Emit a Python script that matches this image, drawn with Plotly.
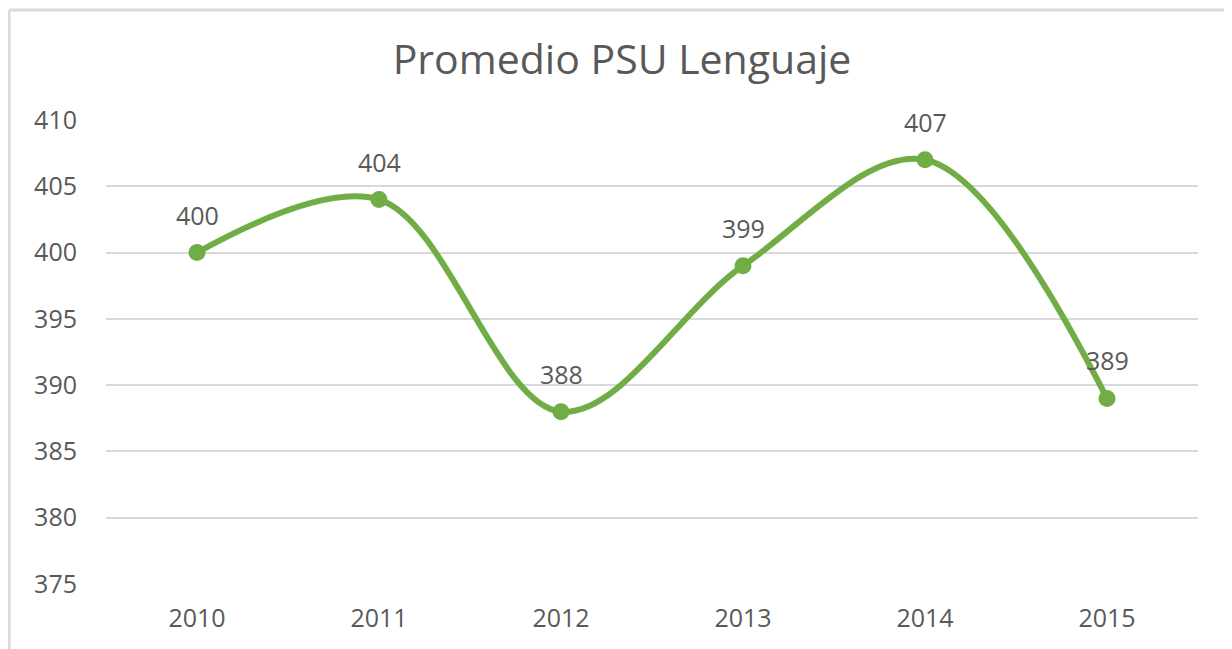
import plotly.graph_objects as go

years = ["2010", "2011", "2012", "2013", "2014", "2015"]
scores = [400, 404, 388, 399, 407, 389]
y_ticks = [375, 380, 385, 390, 395, 400, 405, 410]

GREEN = "#70AD47"
TXT = "#595959"
FONT = "Open Sans"

# page body has an 8px margin, so the figure sits at (8, 8) in the window
W, H = 1224, 641
L, R, T, B = 98, 34, 112, 65
PW, PH = W - L - R, H - T - B

fig = go.Figure()
fig.add_trace(go.Scatter(
    x=years, y=scores, mode="lines+markers",
    line=dict(color=GREEN, width=6, shape="spline", smoothing=1.0),
    marker=dict(color=GREEN, size=17),
    hoverinfo="skip", showlegend=False,
))

for i, yv in enumerate(scores):
    fig.add_annotation(x=i, y=yv, xref="x", yref="y", text=str(yv),
                       showarrow=False, yshift=38,
                       font=dict(family=FONT, size=25, color=TXT))

border_y = 1 + (T - 2) / PH
border_x = -(L - 1) / PW
fig.update_layout(
    width=W, height=H,
    paper_bgcolor="white", plot_bgcolor="white",
    margin=dict(l=L, r=R, t=T, b=B),
    title=dict(text="Promedio PSU Lenguaje", x=614 / W, xanchor="center",
               y=1 - 52 / H, yanchor="middle", yref="container",
               font=dict(family=FONT, size=41, color=TXT)),
    xaxis=dict(type="category", range=[-0.5, 5.5], showgrid=False,
               showline=False, zeroline=False, ticks="",
               tickfont=dict(family=FONT, size=25, color=TXT),
               ticklabelstandoff=17),
    yaxis=dict(range=[375, 410], tickvals=y_ticks, showgrid=True,
               gridcolor="#D9D9D9", gridwidth=1.5, zeroline=False,
               showline=False, ticks="",
               tickfont=dict(family=FONT, size=25, color=TXT),
               ticklabelstandoff=28),
    shapes=[
        dict(type="line", xref="paper", yref="paper",
             x0=border_x, x1=1 + (R + 10) / PW, y0=border_y, y1=border_y,
             line=dict(color="#D9D9D9", width=3)),
        dict(type="line", xref="paper", yref="paper",
             x0=border_x, x1=border_x, y0=border_y, y1=-(B + 10) / PH,
             line=dict(color="#D9D9D9", width=3)),
    ],
)

fig.write_html("out.html")
